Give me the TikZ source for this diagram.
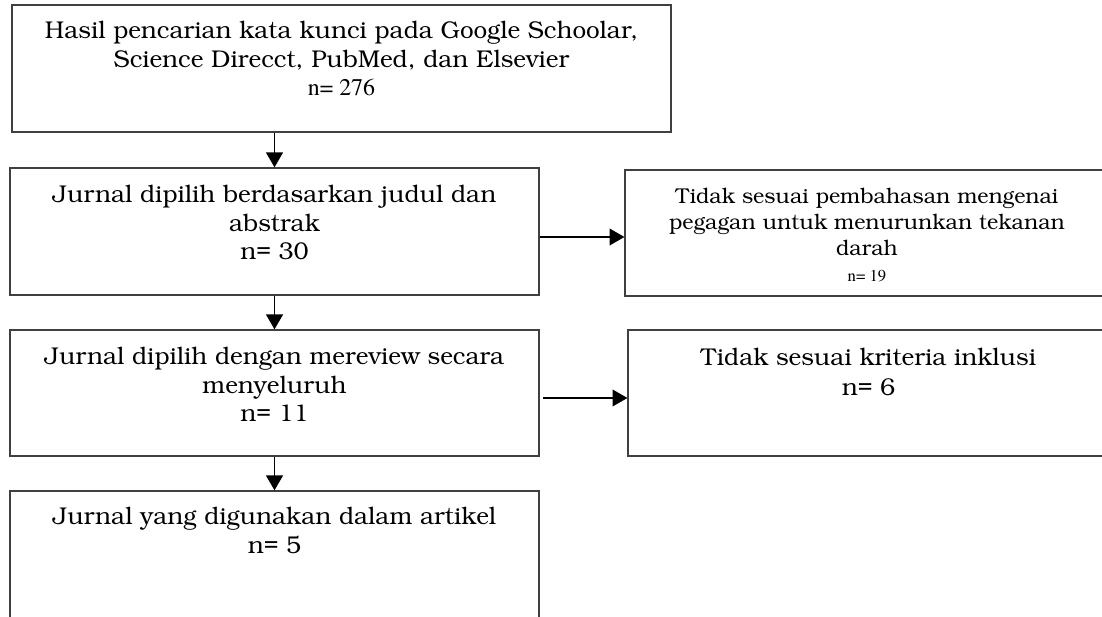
\documentclass[tikz,border=0pt]{standalone}
\usepackage[T1]{fontenc}
\usepackage{bookman}
\usepackage{tikz}
\usetikzlibrary{arrows.meta}
\usetikzlibrary{positioning}
\tikzset{>={Triangle[length=8.5pt, width=9.5pt]}}
\tikzset{box/.style={draw=black!75, line width=.7pt, inner sep=0pt}}
\tikzset{txt/.style={align=center, inner sep=0pt, font=\fontsize{13.8}{16.2}\selectfont}}
\tikzset{link/.style={->, line width=1.1pt}}
\newcommand{\tnr}[1]{{\fontfamily{ptm}\selectfont #1}}

\begin{document}
\begin{tikzpicture}[x=.02cm, y=-.02cm]
    \useasboundingbox(0, 0)rectangle(1102, 617);
    \clip(0, 0)rectangle(1102, 617);
    % kotak kiri
    \node[box, minimum width=13.18cm, minimum height=2.54cm](hasil)at(341.5, 68.5){};
    \node[box, minimum width=10.58cm, minimum height=2.54cm](judul)at(274.5, 231.5){};
    \node[box, minimum width=10.58cm, minimum height=2.52cm](review)at(274.5, 393){};
    \node[box, minimum width=10.58cm, minimum height=2.6cm](artikel)at(274.5, 556){};
    % kotak kanan
    \node[box, minimum width=9.68cm, minimum height=2.52cm](bahas)at(867, 233){};
    \node[box, minimum width=9.62cm, minimum height=2.52cm](inklusi)at(868.5, 393){};
    % teks
    \node[txt, below=.34cm of hasil.north](hasiltxt){Hasil pencarian kata kunci pada Google Schoolar,\\Science Direcct, PubMed, dan Elsevier\\{\fontsize{13.6}{16.2}\tnr{n= 276}}};
    \node[txt, below=.36cm of judul.north](judultxt){Jurnal dipilih berdasarkan judul dan\\abstrak\\n= 30};
    \node[txt, below=.36cm of review.north](reviewtxt){Jurnal dipilih dengan mereview secara\\menyeluruh\\n= 11};
    \node[txt, below=.34cm of artikel.north](artikeltxt){Jurnal yang digunakan dalam artikel\\n= 5};
    \node[txt, below=.38cm of bahas.north, font=\fontsize{12.2}{14.8}\selectfont](bahastxt){Tidak sesuai pembahasan mengenai\\pegagan untuk menurunkan tekanan\\darah\\{\fontsize{9.5}{14.8}\tnr{n= 19}}};
    \node[txt, below=.38cm of inklusi.north, font=\fontsize{13.8}{17}\selectfont](inklusitxt){Tidak sesuai kriteria inklusi\\n= 6};
    % panah
    \draw[link](hasil.south -| judul.north)--(judul.north);
    \draw[link](judul)--(review);
    \draw[link](review)--(artikel);
    \draw[link]([yshift=-.11cm]judul.east)--([yshift=-.11cm]judul.east -| bahas.west);
    \draw[link, shorten <=2pt]([yshift=-.1cm]review.east)--([yshift=-.1cm]review.east -| inklusi.west);
\end{tikzpicture}
\end{document}
